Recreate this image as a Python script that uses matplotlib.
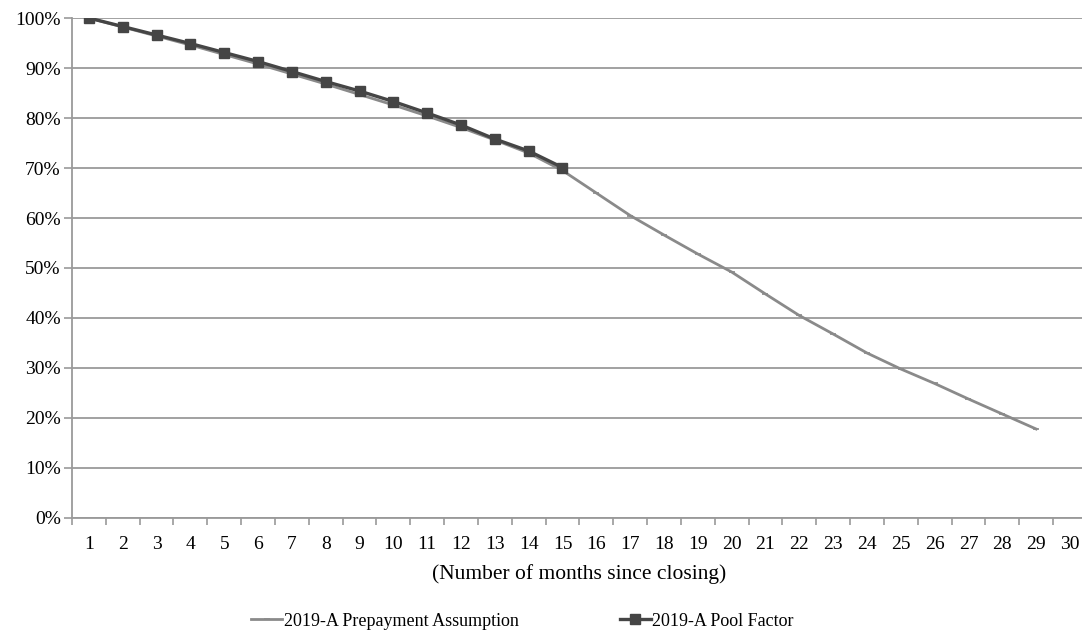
import matplotlib
matplotlib.use("Agg")
import matplotlib.pyplot as plt
from matplotlib.ticker import FixedLocator, PercentFormatter

plt.rcParams["font.family"] = ["Liberation Serif", "DejaVu Serif"]

# months since closing
months = list(range(1, 31))
prepay_months = list(range(1, 30))
pool_months = list(range(1, 16))

# 2019-A Prepayment Assumption (%)
prepayment = [100.0, 98.2, 96.4, 94.6, 92.7, 90.8, 88.8, 86.8, 84.7, 82.6,
              80.4, 78.1, 75.6, 73.0, 69.5, 65.0, 60.5, 56.6, 52.8, 49.2,
              44.8, 40.5, 36.8, 33.0, 29.8, 26.9, 23.8, 20.8, 17.8]

# 2019-A Pool Factor (%)
pool_factor = [100.0, 98.3, 96.6, 94.9, 93.1, 91.3, 89.3, 87.3, 85.4, 83.3,
               81.0, 78.6, 75.8, 73.4, 70.1]

fig = plt.figure(figsize=(10.82, 6.32), dpi=100)
ax = fig.add_axes([0.0665, 0.1804, 0.938, 0.7911])

grid_col = "#9a9a9a"
ax.plot(prepay_months, prepayment, color="#8a8a8a", lw=2.0, marker="_",
        markersize=4, markeredgewidth=1.2, label="2019-A Prepayment Assumption", zorder=3)
ax.plot(pool_months, pool_factor, color="#454545", lw=2.4, marker="s",
        markersize=7, label="2019-A Pool Factor", zorder=4)

ax.set_xlim(0.5, 30.5)
ax.set_ylim(0, 100)
ax.set_yticks(range(0, 101, 10))
ax.yaxis.set_major_formatter(PercentFormatter(decimals=0))
ax.set_xticks(months)
ax.set_xticklabels([str(m) for m in months])
ax.xaxis.set_minor_locator(FixedLocator([m + 0.5 for m in range(0, 31)]))

ax.grid(axis="y", color=grid_col, lw=1.3)
ax.set_axisbelow(True)
for s in ["top", "right"]:
    ax.spines[s].set_visible(False)
for s in ["left", "bottom"]:
    ax.spines[s].set_color(grid_col)
    ax.spines[s].set_linewidth(1.3)

ax.tick_params(axis="y", length=6, color=grid_col, width=1.2, labelsize=14, pad=2)
ax.tick_params(axis="x", which="major", length=0, labelsize=14, pad=13)
ax.tick_params(axis="x", which="minor", length=5, color=grid_col, width=1.2)

ax.set_xlabel("(Number of months since closing)", fontsize=15.5, labelpad=8)

handles, labels = ax.get_legend_handles_labels()
fig.legend(handles, labels, loc="lower center", bbox_to_anchor=(0.483, -0.022),
           ncol=2, frameon=False, fontsize=13, handlelength=1.7,
           handletextpad=0.1, columnspacing=5.6)

fig.savefig("out.png", dpi=100)
